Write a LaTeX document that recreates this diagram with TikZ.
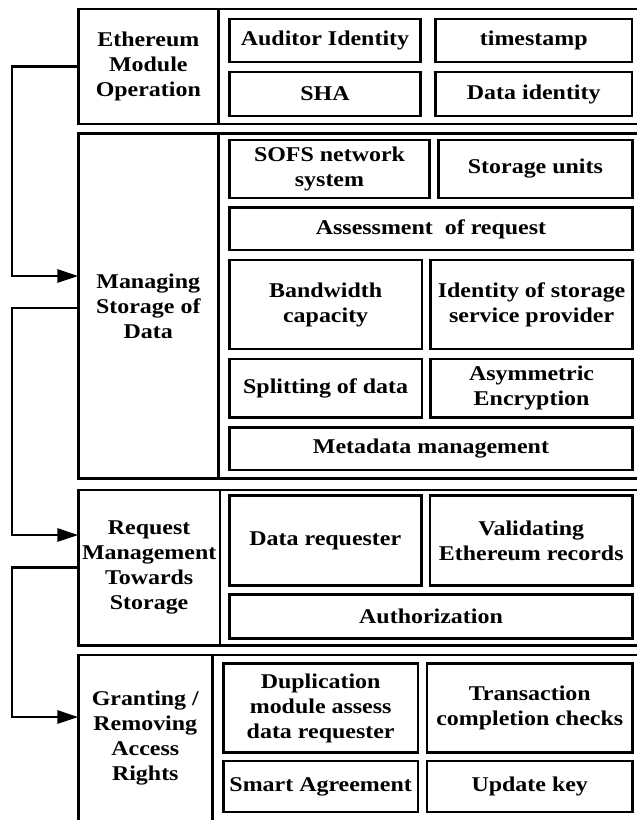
\documentclass[tikz,border=0pt]{standalone}
\usepackage{fontspec}
\newfontfamily\boxfont{Liberation Serif}[FakeStretch=1.14]
\usetikzlibrary{arrows.meta}
\tikzset{
  every picture/.style={line width=2.8pt, x=1pt, y=-1pt},
  cell/.style={draw, align=center, inner sep=0pt, outer sep=0pt,
    font={\boxfont\bfseries\fontsize{21}{25}\selectfont}},
  title/.style={cell},
  arrow/.style={-{Triangle[length=21pt, width=13pt]}},
}
\begin{document}
\begin{tikzpicture}
  \useasboundingbox (0,0) rectangle (637,820);
  \coordinate (lane) at (12,0);

  % Ethereum module
  \node[title, minimum width=140, minimum height=115] (eth) at (148.3,66.5) {Ethereum\\Module\\Operation};
  \draw (eth.north east) rectangle ++(430,115);
  \node[cell, minimum width=191, minimum height=43] (aud) at (325,40.5) {Auditor Identity};
  \node[cell, minimum width=196.5, minimum height=43] (tim) at (533.75,40.5) {timestamp};
  \node[cell, minimum width=191, minimum height=44] (sha) at (325,94) {SHA};
  \node[cell, minimum width=196.5, minimum height=44] (did) at (533.75,94) {Data identity};

  % managing storage
  \node[title, minimum width=140, minimum height=345] (msd) at (148.3,306) {Managing\\Storage of\\Data};
  \draw (msd.north east) rectangle ++(430,345);
  \node[cell, minimum width=200.4, minimum height=58] (sofs) at (329.5,169) {SOFS network\\system};
  \node[cell, minimum width=194.2, minimum height=58] (sun) at (535.4,169) {Storage units};
  \node[cell, minimum width=403.2, minimum height=42.3] (ass) at (431,228.9) {Assessment\ \ of request};
  \node[cell, minimum width=192.7, minimum height=89] (bw) at (325.65,304.5) {Bandwidth\\capacity};
  \node[cell, minimum width=201.8, minimum height=89] (ssp) at (531.6,304.5) {Identity of storage\\service provider};
  \node[cell, minimum width=192.7, minimum height=58.7] (spl) at (325.65,388.35) {Splitting of data};
  \node[cell, minimum width=201.8, minimum height=58.7] (asy) at (531.6,388.35) {Asymmetric\\Encryption};
  \node[cell, minimum width=403.2, minimum height=42.3] (meta) at (431,448.85) {Metadata management};

  % request management
  \node[title, minimum width=141.7, minimum height=155.7] (rmt) at (149.15,567.85) {Request\\Management\\Towards\\Storage};
  \draw (rmt.north east) rectangle ++(430,155.7);
  \node[cell, minimum width=192, minimum height=90] (drq) at (325.3,540.7) {Data requester};
  \node[cell, minimum width=202.5, minimum height=90] (val) at (531.25,540.7) {Validating\\Ethereum records};
  \node[cell, minimum width=403.2, minimum height=44] (auth) at (431,616.3) {Authorization};

  % access rights
  \node[title, minimum width=134, minimum height=167] (gra) at (145.3,738.5) {Granting /\\Removing\\Access\\Rights};
  \draw (gra.north east) rectangle ++(440,167);
  \node[cell, minimum width=194.7, minimum height=89.4] (dup) at (320.65,708) {Duplication\\module assess\\data requester};
  \node[cell, minimum width=205.5, minimum height=89.4] (tcc) at (529.75,708) {Transaction\\completion checks};
  \node[cell, minimum width=194.7, minimum height=51] (sma) at (320.65,786.5) {Smart Agreement};
  \node[cell, minimum width=205.5, minimum height=51] (upd) at (529.75,786.5) {Update key};

  % connectors
  \draw[arrow] (eth.west) -- (eth.west -| lane) |- ([yshift=30pt]msd.west);
  \draw[arrow] ([yshift=-2pt]msd.west) -- ([yshift=-2pt]msd.west -| lane) |- ([yshift=32.85pt]rmt.west);
  \draw[arrow] (rmt.west) -- (rmt.west -| lane) |- ([yshift=21.5pt]gra.west);
\end{tikzpicture}
\end{document}
